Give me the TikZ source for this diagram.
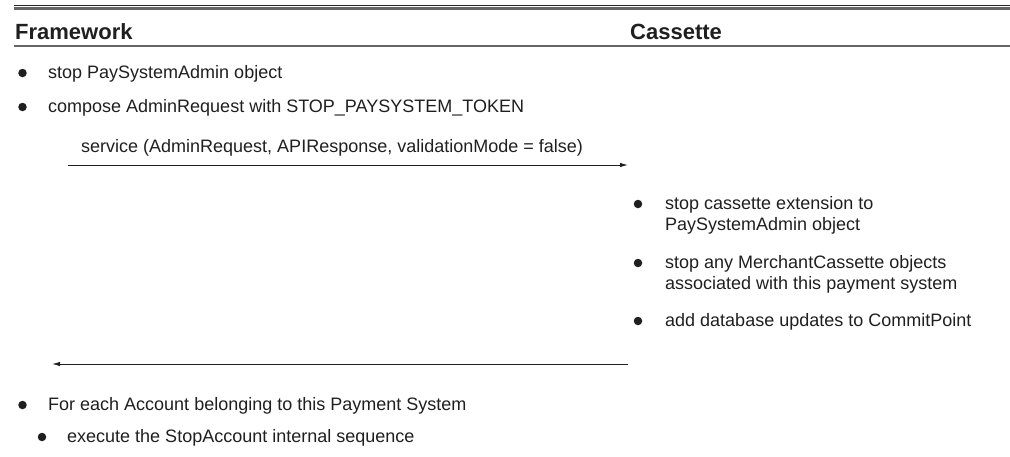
\documentclass[tikz,border=0pt]{standalone}
\usepackage{fontspec}
\setmainfont{Liberation Sans}
\usetikzlibrary{arrows.meta}
% two stacked lines whose baseline is the first one
\newcommand{\twolines}[2]{\vtop{\hbox{#1}\hbox{#2}}}
\begin{document}
\begin{tikzpicture}[x=1pt,y=-1pt,
  body/.style={font=\fontsize{18}{21}\selectfont, anchor=base west, inner sep=0pt, text=black!88},
  head/.style={font=\fontsize{22}{26}\selectfont\bfseries, anchor=base west, inner sep=0pt, text=black!88},
  dot/.style={circle, fill=black!88, inner sep=0pt, minimum size=8.5pt},
  msg/.style={-{Latex[length=8pt,width=4.5pt]}, line width=1pt, draw=black!88},
  rule/.style={draw=black!60, line width=2.2pt}]
\useasboundingbox (0,0) rectangle (1010,456);

% top double rule
\draw[black!85, line width=0.9pt] (14,5.2) -- (1010,5.2);
\draw[rule] (14,8.4) -- (1010,8.4);

% column headings
\node[head] (hfw) at (15,39) {Framework};
\node[head] (hcs) at (630,39) {Cassette};
\draw[rule] (14,46) -- (1010,46);

% framework steps before the call
\node[dot] (d1) at (22.5,73) {};
\node[body] (t1) at (48,78) {stop PaySystemAdmin object};
\node[dot] (d2) at (22.5,107) {};
\node[body] (t2) at (48,112) {compose AdminRequest with STOP\_PAYSYSTEM\_TOKEN};

% service call
\coordinate (callA) at (68,165);
\coordinate (callB) at (628,165);
\draw[msg] (callA) -- (callB);
\node[body] (lbl) at (81,152) {service (AdminRequest, APIResponse, validationMode = false)};

% cassette steps
\node[dot] (r1) at (638,204) {};
\node[body] (rt1) at (665,209) {\twolines{stop cassette extension to}{PaySystemAdmin object}};
\node[dot] (r2) at (638,263) {};
\node[body] (rt2) at (665,268) {\twolines{stop any MerchantCassette objects}{associated with this payment system}};
\node[dot] (r3) at (638,321) {};
\node[body] (rt3) at (665,326) {add database updates to CommitPoint};

% return
\coordinate (retA) at (628,364);
\coordinate (retB) at (52,364);
\draw[msg] (retA) -- (retB);

% framework steps after the call
\node[dot] (d3) at (22.5,405) {};
\node[body] (t3) at (48,410) {For each Account belonging to this Payment System};
\node[dot] (d4) at (42,437) {};
\node[body] (t4) at (67,442) {execute the StopAccount internal sequence};
\end{tikzpicture}
\end{document}
